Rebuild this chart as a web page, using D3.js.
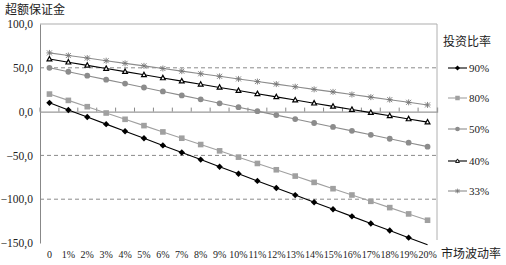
<!DOCTYPE html>
<html><head><meta charset="utf-8">
<script src="https://cdn.jsdelivr.net/npm/d3@7/dist/d3.min.js"></script>
<style>body{margin:0;background:#fff}svg{display:block}svg text{font-family:"Liberation Serif", "DejaVu Serif", "Noto Sans CJK SC", serif !important;}</style>
</head><body><svg id="c" width="506" height="265"></svg>
<script>
const categories = ["0","1%","2%","3%","4%","5%","6%","7%","8%","9%","10%","11%","12%","13%","14%","15%","16%","17%","18%","19%","20%"];
const s90 = [10,1.9,-6.2,-14.3,-22.4,-30.5,-38.6,-46.7,-54.8,-62.9,-71,-79.1,-87.2,-95.3,-103.4,-111.5,-119.6,-127.7,-135.8,-143.9,-152];
const s80 = [20,12.8,5.6,-1.6,-8.8,-16,-23.2,-30.4,-37.6,-44.8,-52,-59.2,-66.4,-73.6,-80.8,-88,-95.2,-102.4,-109.6,-116.8,-124];
const s50 = [50,45.5,41,36.5,32,27.5,23,18.5,14,9.5,5,0.5,-4,-8.5,-13,-17.5,-22,-26.5,-31,-35.5,-40];
const s40 = [60,56.4,52.8,49.2,45.6,42,38.4,34.8,31.2,27.6,24,20.4,16.8,13.2,9.6,6,2.4,-1.2,-4.8,-8.4,-12];
const s33 = [67,64.0,61.1,58.1,55.1,52.2,49.2,46.2,43.2,40.3,37.3,34.3,31.4,28.4,25.4,22.5,19.5,16.5,13.6,10.6,7.6];
const seriesNames = ["90%","80%","50%","40%","33%"];
const yTicks = [100,50,0,-50,-100,-150];
const yTitle = "超额保证金";
const xTitle = "市场波动率";
const legendTitle = "投资比率";

const seriesData = [s90,s80,s50,s40,s33];
const styles = [
  {line:"#000", marker:"diamond", fill:"#000", stroke:"#000"},
  {line:"#a0a0a0", marker:"square", fill:"#a0a0a0", stroke:"#a0a0a0"},
  {line:"#8c8c8c", marker:"circle", fill:"#8c8c8c", stroke:"#8c8c8c"},
  {line:"#000", marker:"triangle", fill:"#fff", stroke:"#000"},
  {line:"#8c8c8c", marker:"star", fill:"none", stroke:"#777"}
];

const svg = d3.select("#c");
const L=40, R=437, T=24, B=243;
const x = d3.scaleBand().domain(categories).range([L,R]);
const y = d3.scaleLinear().domain([-150,100]).range([B,T]);
const cx = c => x(c)+x.bandwidth()/2;

svg.append("g").selectAll("line").data([50,-50,-100]).join("line")
  .attr("x1",L).attr("x2",R).attr("y1",d=>y(d)).attr("y2",d=>y(d))
  .attr("stroke","#8a8a8a").attr("stroke-width",1).attr("stroke-dasharray","4,3");
svg.append("line").attr("x1",L).attr("x2",R).attr("y1",y(100)).attr("y2",y(100)).attr("stroke","#c8c8c8").attr("stroke-width",1.5);
svg.append("line").attr("x1",R).attr("x2",R).attr("y1",y(100)).attr("y2",y(-150)-3).attr("stroke","#b0b0b0").attr("stroke-width",1);

const yAxis = d3.axisLeft(y).tickValues(yTicks).tickSize(0).tickPadding(7)
  .tickFormat(d => (d<0?"−":"") + Math.abs(d).toFixed(1).replace(".",","));
const gy = svg.append("g").attr("transform",`translate(${L},0)`).call(yAxis);
gy.select(".domain").attr("stroke","#888");
gy.selectAll("text").attr("font-size",11.5).attr("fill","#222");

const xAxis = d3.axisTop(x).tickSize(4).tickFormat("");
const gx = svg.append("g").attr("transform",`translate(0,${y(0)})`).call(xAxis);
gx.select(".domain").attr("stroke","#999").attr("stroke-width",1.3);
gx.selectAll(".tick").attr("transform", (d)=>`translate(${x(d)},0)`);
gx.selectAll(".tick line").attr("stroke","#888");
svg.append("g").selectAll("text").data(categories).join("text")
  .attr("x",d=>cx(d)).attr("y",258).attr("text-anchor","middle")
  .attr("font-size",10).attr("fill","#222").text(d=>d);

const line = d3.line().x((d,i)=>cx(categories[i])).y(d=>y(d));
function marker(g, type, st){
  if(type==="diamond") g.append("path").attr("d","M0,-3.2L3.2,0L0,3.2L-3.2,0Z").attr("fill",st.fill);
  else if(type==="square") g.append("rect").attr("x",-2.8).attr("y",-2.8).attr("width",5.6).attr("height",5.6).attr("fill",st.fill);
  else if(type==="circle") g.append("circle").attr("r",2.9).attr("fill",st.fill);
  else if(type==="triangle") g.append("path").attr("d","M0,-2.6L2.4,1.8L-2.4,1.8Z").attr("fill",st.fill).attr("stroke",st.stroke).attr("stroke-width",1.2);
  else if(type==="star") g.append("path").attr("d","M-2.5,-2.5L2.5,2.5M-2.5,2.5L2.5,-2.5M0,-3L0,3M-3,0L3,0").attr("stroke",st.stroke).attr("stroke-width",0.9);
}
seriesData.forEach((data,k)=>{
  const st = styles[k];
  svg.append("path").datum(data).attr("d",line).attr("fill","none").attr("stroke",st.line).attr("stroke-width",1.1);
  data.forEach((v,i)=>{
    if(k===0 && i===data.length-1) return;
    const g = svg.append("g").attr("transform",`translate(${cx(categories[i])},${y(v)})`);
    marker(g, st.marker, st);
  });
});

svg.append("text").attr("x",5).attr("y",14).attr("font-size",12).attr("fill","#222").text(yTitle);
svg.append("text").attr("x",441).attr("y",258).attr("font-size",12).attr("fill","#222").text(xTitle);

svg.append("text").attr("x",443).attr("y",46).attr("font-size",12).attr("fill","#222").text(legendTitle);
const ly = [68,98,129,161,191];
seriesNames.forEach((n,k)=>{
  const st = styles[k];
  svg.append("line").attr("x1",448).attr("x2",467).attr("y1",ly[k]).attr("y2",ly[k]).attr("stroke",st.line).attr("stroke-width",1.1);
  const g = svg.append("g").attr("transform",`translate(457.5,${ly[k]}) scale(0.8)`);
  marker(g, st.marker, st);
  svg.append("text").attr("x",469).attr("y",ly[k]+4).attr("font-size",11).attr("fill","#222").text(n);
});
</script></body></html>
